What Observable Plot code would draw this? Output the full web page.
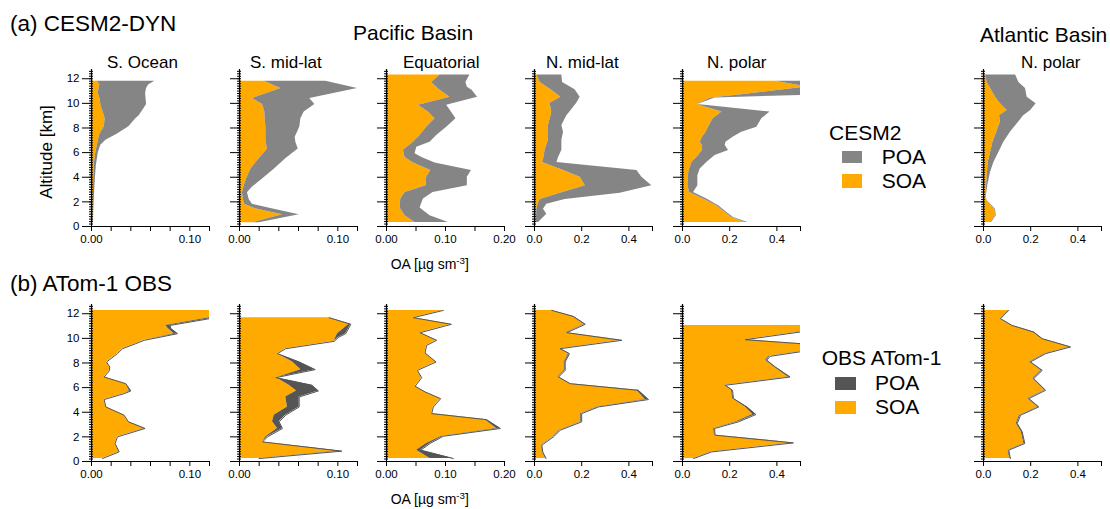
<!DOCTYPE html>
<html><head><meta charset="utf-8">
<script src="https://cdn.jsdelivr.net/npm/d3@7"></script>
<script src="https://cdn.jsdelivr.net/npm/@observablehq/plot@0.6"></script>
<style>
body{margin:0;background:#fff;}
#root{position:relative;width:1110px;height:509px;overflow:hidden;font-family:"Liberation Sans",Arial,sans-serif;color:#000;background:#fff;}
.t{position:absolute;white-space:nowrap;line-height:1;}
.p{position:absolute;}
.sw{position:absolute;}
sup{font-size:0.7em;vertical-align:0.55em;line-height:0;}
</style></head><body><div id="root"></div><script>
// ---------- CESM2-DYN (row a) ----------
const altCesmSOcean = [0.3, 1, 2, 3, 4, 5, 6, 6.6, 7.0, 7.5, 8.1, 8.75, 9.0, 9.6, 9.9, 10.4, 10.8, 11.2, 11.5, 11.8];
const soaCesmSOcean = [0.0014, 0.0015, 0.0017, 0.002, 0.0023, 0.0027, 0.0044, 0.006, 0.007, 0.0085, 0.013, 0.0139, 0.013, 0.0105, 0.0095, 0.0085, 0.007, 0.0075, 0.0085, 0.006];
const oaCesmSOcean  = [0.002, 0.0022, 0.0027, 0.0033, 0.004, 0.005, 0.007, 0.0095, 0.0146, 0.026, 0.038, 0.045, 0.0485, 0.0536, 0.056, 0.0555, 0.055, 0.056, 0.058, 0.0644];

const altCesmSMid = [0.3, 0.95, 1.45, 1.8, 2.2, 2.75, 3.2, 3.85, 4.65, 5.5, 6.3, 6.85, 7.25, 7.65, 8.1, 8.75, 9.3, 9.9, 10.4, 11.2, 11.8];
const soaCesmSMid = [0.013, 0.0437, 0.016, 0.005, 0.004, 0.003, 0.0045, 0.007, 0.0115, 0.02, 0.0285, 0.027, 0.0268, 0.0268, 0.0268, 0.026, 0.0258, 0.0234, 0.0132, 0.042, 0.025];
const oaCesmSMid  = [0.02, 0.0607, 0.033, 0.0132, 0.0098, 0.0081, 0.0132, 0.0234, 0.0353, 0.047, 0.0597, 0.0573, 0.0566, 0.059, 0.0614, 0.0624, 0.0658, 0.0766, 0.0715, 0.12, 0.0878];

const altCesmEq = [0.33, 0.87, 1.5, 2.23, 2.77, 3.3, 4.0, 4.54, 5.15, 5.6, 5.9, 6.2, 6.44, 6.85, 7.4, 8.07, 8.75, 9.3, 9.84, 10.5, 11.06, 11.3, 11.7, 12.3];
const soaCesmEq = [0.0485, 0.0315, 0.023, 0.0242, 0.0315, 0.067, 0.068, 0.075, 0.0456, 0.0315, 0.03, 0.0287, 0.035, 0.0456, 0.0569, 0.068, 0.0823, 0.071, 0.054, 0.1076, 0.0907, 0.085, 0.0766, 0.0907];
const oaCesmEq  = [0.1048, 0.0738, 0.0569, 0.0625, 0.079, 0.137, 0.137, 0.144, 0.0823, 0.06, 0.0485, 0.05, 0.0513, 0.0738, 0.085, 0.102, 0.1177, 0.110, 0.102, 0.1544, 0.145, 0.137, 0.1346, 0.1414];

const altCesmNMid = [0.33, 1.0, 1.4, 1.8, 2.2, 2.7, 3.3, 4.0, 4.55, 5.2, 5.6, 6.2, 7.0, 7.65, 8.2, 9.0, 9.3, 10.0, 10.5, 11.1, 11.7, 12.3];
const soaCesmNMid = [0.007, 0.009, 0.0099, 0.015, 0.024, 0.109, 0.215, 0.1935, 0.123, 0.034, 0.04, 0.045, 0.059, 0.059, 0.059, 0.07, 0.073, 0.066, 0.1116, 0.07, 0.024, 0.0099];
const oaCesmNMid  = [0.017, 0.052, 0.038, 0.052, 0.13, 0.363, 0.497, 0.455, 0.434, 0.095, 0.102, 0.116, 0.116, 0.123, 0.116, 0.137, 0.15, 0.179, 0.1935, 0.172, 0.119, 0.1158];

const altCesmNPol = [0.33, 0.73, 1.14, 1.68, 2.23, 2.77, 3.3, 4.13, 4.67, 5.2, 5.76, 6.17, 6.58, 6.85, 7.26, 7.66, 8.07, 8.75, 9.3, 9.9, 10.43, 10.7, 11.33, 11.8];
const soaCesmNPol = [0.266, 0.209, 0.181, 0.145, 0.089, 0.03, 0.023, 0.024, 0.03, 0.04, 0.068, 0.085, 0.085, 0.075, 0.085, 0.1, 0.11, 0.13, 0.167, 0.061, 0.12, 0.25, 0.53, 0.393];
const oaCesmNPol  = [0.277, 0.216, 0.188, 0.153, 0.103, 0.047, 0.065, 0.065, 0.075, 0.103, 0.138, 0.195, 0.181, 0.184, 0.216, 0.251, 0.315, 0.336, 0.371, 0.065, 0.138, 0.6, 0.65, 0.6];

const altCesmAtl = [0.33, 0.87, 1.41, 1.68, 2.1, 2.36, 3.3, 4.4, 5.2, 6.0, 6.85, 7.66, 8.5, 9.0, 9.43, 9.97, 10.5, 11.2, 11.7, 12.3];
const soaCesmAtl = [0.03, 0.051, 0.048, 0.034, 0.0155, 0.0085, 0.013, 0.017, 0.02, 0.03, 0.04, 0.056, 0.072, 0.068, 0.1, 0.072, 0.051, 0.03, 0.0155, 0.0085];
const oaCesmAtl  = [0.034, 0.054, 0.051, 0.037, 0.016, 0.011, 0.018, 0.03, 0.044, 0.065, 0.086, 0.114, 0.15, 0.17, 0.2, 0.223, 0.185, 0.178, 0.15, 0.136];

// ---------- ATom-1 OBS (row b) ----------
const altObsSOcean = [0.24, 0.78, 1.46, 2.0, 2.68, 3.22, 3.76, 4.43, 5.03, 5.51, 5.73, 6.32, 6.86, 7.35, 7.68, 8.08, 8.76, 9.16, 9.57, 9.84, 10.38, 10.8, 11.05, 11.68, 12.27];
const soaObsSOcean = [0.0112, 0.0281, 0.024, 0.0264, 0.0535, 0.0376, 0.0332, 0.0146, 0.0129, 0.0332, 0.0385, 0.0349, 0.0129, 0.018, 0.0186, 0.0153, 0.0264, 0.0315, 0.045, 0.0536, 0.084, 0.078, 0.0756, 0.121, 0.14];
const oaObsSOcean  = [0.0112, 0.0281, 0.024, 0.0264, 0.0545, 0.0376, 0.0332, 0.0146, 0.0129, 0.0332, 0.04, 0.0349, 0.0129, 0.018, 0.0186, 0.0153, 0.0264, 0.0315, 0.045, 0.0536, 0.0875, 0.0807, 0.08, 0.126, 0.14];

const altObsSMid = [0.24, 0.84, 1.59, 2.0, 2.68, 3.22, 3.76, 4.43, 5.24, 5.73, 6.19, 6.81, 7.46, 8.08, 8.76, 9.16, 9.76, 10.1, 10.38, 11.14, 11.68];
const soaObsSMid = [0.0193, 0.0997, 0.0234, 0.0268, 0.0386, 0.0336, 0.0353, 0.0488, 0.047, 0.058, 0.0505, 0.0376, 0.0624, 0.054, 0.0386, 0.047, 0.0963, 0.098, 0.0997, 0.1115, 0.0912];
const oaObsSMid  = [0.02, 0.104, 0.0234, 0.0285, 0.0437, 0.0403, 0.047, 0.0607, 0.0607, 0.0803, 0.0736, 0.037, 0.077, 0.0607, 0.0386, 0.047, 0.0963, 0.101, 0.108, 0.1132, 0.0912];

const altObsEq = [0.24, 0.92, 1.46, 2.05, 2.68, 3.4, 3.89, 4.43, 5.1, 5.65, 6.11, 6.81, 7.4, 8.08, 8.81, 9.43, 9.84, 10.46, 11.14, 11.68, 12.27];
const soaObsEq = [0.0738, 0.051, 0.068, 0.0935, 0.1865, 0.1668, 0.0766, 0.0794, 0.0918, 0.0654, 0.0485, 0.0597, 0.0524, 0.084, 0.0654, 0.068, 0.085, 0.0569, 0.110, 0.0456, 0.0963];
const oaObsEq  = [0.1132, 0.058, 0.0738, 0.0963, 0.193, 0.1696, 0.0766, 0.0794, 0.0918, 0.0654, 0.0485, 0.0597, 0.0524, 0.084, 0.0654, 0.068, 0.085, 0.0569, 0.110, 0.0456, 0.0963];

const altObsNMid = [0.24, 0.78, 1.32, 2.0, 2.54, 3.22, 3.89, 4.43, 5.03, 5.78, 6.32, 6.86, 7.4, 8.08, 8.76, 9.16, 9.84, 10.46, 11.14, 11.78, 12.27];
const soaObsNMid = [0.047, 0.033, 0.029, 0.078, 0.106, 0.196, 0.196, 0.266, 0.469, 0.433, 0.147, 0.099, 0.126, 0.126, 0.144, 0.106, 0.365, 0.133, 0.21, 0.16, 0.07];
const oaObsNMid  = [0.049, 0.035, 0.031, 0.0805, 0.109, 0.2, 0.2, 0.271, 0.483, 0.44, 0.151, 0.102, 0.13, 0.13, 0.148, 0.109, 0.37, 0.137, 0.215, 0.165, 0.0734];

const altObsNPol = [0.24, 0.78, 1.51, 2.14, 2.68, 3.22, 3.81, 4.43, 5.11, 5.78, 6.19, 6.86, 7.68, 8.22, 8.54, 8.97, 9.49, 9.89, 10.6, 11.05];
const soaObsNPol = [0.045, 0.121, 0.465, 0.135, 0.132, 0.228, 0.298, 0.266, 0.212, 0.208, 0.178, 0.448, 0.388, 0.352, 0.366, 0.515, 0.555, 0.262, 0.525, 0.575];
const oaObsNPol  = [0.047, 0.124, 0.47, 0.138, 0.136, 0.237, 0.311, 0.273, 0.216, 0.212, 0.181, 0.456, 0.393, 0.357, 0.371, 0.52, 0.56, 0.266, 0.53, 0.58];

const altObsAtl = [0.24, 0.92, 1.46, 2.41, 3.08, 3.76, 4.43, 5.11, 5.78, 6.73, 7.4, 8.08, 8.76, 9.3, 9.97, 10.51, 11.05, 11.6, 12.27];
const soaObsAtl = [0.111, 0.104, 0.171, 0.16, 0.139, 0.153, 0.23, 0.188, 0.259, 0.209, 0.245, 0.195, 0.259, 0.364, 0.245, 0.209, 0.118, 0.07, 0.105];
const oaObsAtl  = [0.114, 0.107, 0.175, 0.164, 0.143, 0.157, 0.234, 0.192, 0.263, 0.213, 0.249, 0.199, 0.263, 0.369, 0.249, 0.213, 0.121, 0.072, 0.107];

// ---------- labels ----------
const panelTitles = ["S. Ocean", "S. mid-lat", "Equatorial", "N. mid-lat", "N. polar", "N. polar"];
const xMax = [0.12, 0.12, 0.2, 0.5, 0.5, 0.5];
const xTicks = [
  [0, 0.02, 0.04, 0.06, 0.08, 0.1, 0.12],
  [0, 0.02, 0.04, 0.06, 0.08, 0.1, 0.12],
  [0, 0.05, 0.1, 0.15, 0.2],
  [0, 0.2, 0.4, 0.5],
  [0, 0.2, 0.4, 0.5],
  [0, 0.2, 0.4, 0.5]
];
const xTickLabels = [
  ["0.00", "", "", "", "", "0.10", ""],
  ["0.00", "", "", "", "", "0.10", ""],
  ["0.00", "", "0.10", "", "0.20"],
  ["0.0", "0.2", "0.4", ""],
  ["0.0", "0.2", "0.4", ""],
  ["0.0", "0.2", "0.4", ""]
];
const yTicks = [0, 2, 4, 6, 8, 10, 12];
const seriesNames = ["POA", "SOA"];

// ---------- build ----------
const ORANGE = "#ffaa00", GRAY = "#858585", DARK = "#555555";
const rows = [
  {alts:[altCesmSOcean,altCesmSMid,altCesmEq,altCesmNMid,altCesmNPol,altCesmAtl],
   soas:[soaCesmSOcean,soaCesmSMid,soaCesmEq,soaCesmNMid,soaCesmNPol,soaCesmAtl],
   oas:[oaCesmSOcean,oaCesmSMid,oaCesmEq,oaCesmNMid,oaCesmNPol,oaCesmAtl], poa:GRAY, obs:false, top:69},
  {alts:[altObsSOcean,altObsSMid,altObsEq,altObsNMid,altObsNPol,altObsAtl],
   soas:[soaObsSOcean,soaObsSMid,soaObsEq,soaObsNMid,soaObsNPol,soaObsAtl],
   oas:[oaObsSOcean,oaObsSMid,oaObsEq,oaObsNMid,oaObsNPol,oaObsAtl], poa:DARK, obs:true, top:304}
];
const colX = [91, 239, 386, 534, 682, 983];
const ML = 30, MR = 6, MT = 4, MB = 24, PW = 118, PH = 157;
const root = document.getElementById("root");
const minor = d3.range(0, 12.75, 0.2);

rows.forEach((r, ri) => {
  for (let c = 0; c < 6; c++) {
    const data = r.alts[c].map((a, i) => ({alt: a, soa: r.soas[c][i], oa: r.oas[c][i]}));
    const tl = xTickLabels[c], tt = xTicks[c];
    const marks = [
      Plot.areaX(data, {y: "alt", x1: d => 0, x2: "soa", fill: ORANGE, clip: true}),
      Plot.areaX(data, {y: "alt", x1: "soa", x2: "oa", fill: r.poa, clip: true})
    ];
    if (r.obs) marks.push(Plot.lineX(data, {y: "alt", x: "oa", stroke: DARK, strokeWidth: 1, clip: true}));
    marks.push(
      Plot.ruleY([0], {stroke: "black", strokeWidth: 1}),
      Plot.ruleX([0], {stroke: "black", strokeWidth: 1.2}),
      Plot.axisX({ticks: tt, tickSize: 5, tickPadding: 3, label: null, tickFormat: d => tl[tt.indexOf(d)] ?? ""}),
      Plot.axisY({ticks: yTicks, tickSize: 9, tickPadding: 3, label: null, tickFormat: c === 0 ? (d => String(d)) : (() => "")}),
      Plot.axisY({ticks: minor, tickSize: 4, dx: 2, label: null, tickFormat: () => ""})
    );
    const svg = Plot.plot({
      width: ML + PW + MR, height: MT + PH + MB,
      marginLeft: ML, marginRight: MR, marginTop: MT, marginBottom: MB,
      x: {domain: [0, xMax[c]], axis: null, label: null},
      y: {domain: [0, 12.75], axis: null, label: null},
      style: {fontFamily: "'Liberation Sans', Arial, sans-serif", fontSize: "11.5px", color: "#000", background: "transparent", overflow: "visible"},
      marks
    });
    const wrap = document.createElement("div");
    wrap.className = "p";
    wrap.style.left = (colX[c] - ML) + "px";
    wrap.style.top = (r.top - MT) + "px";
    wrap.appendChild(svg);
    root.appendChild(wrap);
  }
});

function txt(html, x, baseline, size, extra) {
  const d = document.createElement("div");
  d.className = "t";
  d.innerHTML = html;
  d.style.left = x + "px";
  d.style.top = (baseline - 0.8465 * size) + "px";
  d.style.fontSize = size + "px";
  if (extra) Object.assign(d.style, extra);
  root.appendChild(d);
  return d;
}
function swatch(x, y, w, h, color) {
  const d = document.createElement("div");
  d.className = "sw";
  Object.assign(d.style, {left: x + "px", top: y + "px", width: w + "px", height: h + "px", background: color});
  root.appendChild(d);
}

txt("(a) CESM2-DYN", 10, 31.7, 22.5);
txt("Pacific Basin", 353, 39.3, 21);
txt("Atlantic Basin", 980, 41.7, 21);
const titleX = [107, 250, 403, 546, 707, 1021];
panelTitles.forEach((t, i) => txt(t, titleX[i], 68.3, 17));
txt("(b) ATom-1 OBS", 10, 291.7, 22.5);
const alt = document.createElement("div");
alt.className = "t";
alt.textContent = "Altitude [km]";
Object.assign(alt.style, {left: "45.5px", top: "151.5px", fontSize: "17px", transform: "translate(-50%,-50%) rotate(-90deg)"});
root.appendChild(alt);
txt("OA [µg sm<sup>-3</sup>]", 390.7, 269, 14);
txt("OA [µg sm<sup>-3</sup>]", 390.7, 504, 14);

txt("CESM2", 829, 139.3, 21);
swatch(842, 150.7, 20, 12.6, GRAY);
swatch(842, 174.3, 20, 14, ORANGE);
txt(seriesNames[0], 881.7, 163.3, 21);
txt(seriesNames[1], 881.7, 187.3, 21);

txt("OBS ATom-1", 821.7, 365, 21);
swatch(835, 376.7, 21, 13.3, DARK);
swatch(835, 401, 21, 13.3, ORANGE);
txt(seriesNames[0], 875, 390, 21);
txt(seriesNames[1], 875, 414, 21);
</script></body></html>
